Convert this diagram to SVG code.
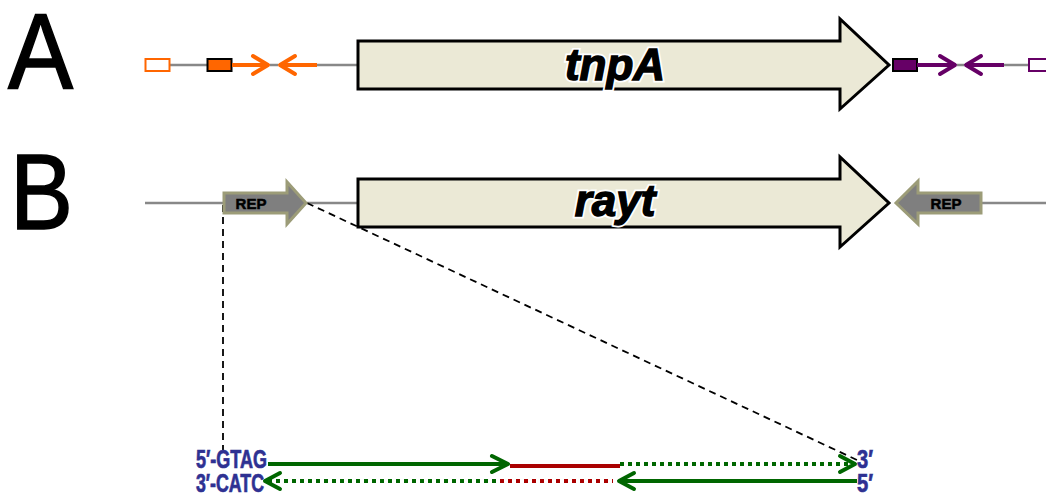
<svg xmlns="http://www.w3.org/2000/svg" width="1046" height="494" viewBox="0 0 1046 494">
<defs>
<style>
.bb{font-family:"Liberation Sans",Arial,sans-serif;font-size:107px;fill:#000;stroke:#000;stroke-width:1.6}
.gene{fill:#ebe9d6;stroke:#000;stroke-width:3;stroke-linejoin:miter}
.gw{font-family:"Liberation Sans",Arial,sans-serif;font-size:44px;font-weight:bold;font-style:italic;fill:#fff;stroke:#fff;stroke-width:5;text-anchor:middle}
.gl{font-family:"Liberation Sans",Arial,sans-serif;font-size:44px;font-weight:bold;font-style:italic;fill:#000;stroke:#000;stroke-width:1.4;text-anchor:middle}
.bl{stroke:#888;stroke-width:2.5;fill:none}
.rep{fill:#7f7f7f;stroke:#9c9c78;stroke-width:3}
.rt{font-family:"Liberation Sans",Arial,sans-serif;font-size:15px;font-weight:bold;fill:#000;stroke:#000;stroke-width:0.5;text-anchor:middle}
.dash{stroke:#000;stroke-width:1.8;stroke-dasharray:7,5;fill:none}
.seq{font-family:"Liberation Sans",Arial,sans-serif;font-size:26px;font-weight:bold;fill:#2e3192;stroke:#2e3192;stroke-width:0.7}
.g{stroke:#006600;stroke-width:4;fill:none}
.gd{stroke:#006600;stroke-width:4;stroke-dasharray:4,4;fill:none}
.r{stroke:#aa0000;stroke-width:4;fill:none}
.rd{stroke:#aa0000;stroke-width:4;stroke-dasharray:4,4;fill:none}
.hd{stroke-width:4;stroke-linecap:round;stroke-linejoin:round;fill:none}
</style>
</defs>
<text class="bb" x="8" y="89" textLength="65" lengthAdjust="spacingAndGlyphs">A</text>
<text class="bb" x="10" y="229" textLength="63" lengthAdjust="spacingAndGlyphs">B</text>
<g id="connectors">
<line class="bl" x1="170" y1="65" x2="207" y2="65"/>
<line class="bl" x1="317" y1="65" x2="358" y2="65"/>
<line class="bl" x1="270" y1="65" x2="278" y2="65"/>
<line class="bl" x1="957" y1="65" x2="964" y2="65"/>
<line class="bl" x1="1004" y1="65" x2="1030" y2="65"/>
<line class="bl" x1="145" y1="203" x2="223" y2="203"/>
<line class="bl" x1="307" y1="203" x2="358" y2="203"/>
<line class="bl" x1="982" y1="203" x2="1046" y2="203"/>
<line class="dash" x1="223" y1="205" x2="223" y2="450"/>
<line class="dash" x1="307" y1="203" x2="857" y2="460"/>
</g>
<g id="left-elements-A">
<rect x="145.5" y="59" width="24" height="12" fill="#fff" stroke="#ff6600" stroke-width="2"/>
<rect x="207.5" y="59" width="24" height="12" fill="#ff6600" stroke="#000" stroke-width="2"/>
<line x1="232" y1="65" x2="268" y2="65" stroke="#ff6600" stroke-width="4"/>
<polyline class="hd" stroke="#ff6600" points="253,56 268,65 253,74"/>
<line x1="280" y1="65" x2="317" y2="65" stroke="#ff6600" stroke-width="4"/>
<polyline class="hd" stroke="#ff6600" points="295,56 280,65 295,74"/>
</g>
<g id="tnpA">
<polygon class="gene" points="358,41 840,41 840,19 889,65 840,109 840,89 358,89"/>
<text class="gw" x="615" y="80">tnpA</text>
<text class="gl" x="615" y="80">tnpA</text>
</g>
<g id="right-elements-A">
<rect x="893" y="59" width="24" height="12" fill="#660066" stroke="#000" stroke-width="2"/>
<line x1="917" y1="65" x2="955" y2="65" stroke="#660066" stroke-width="4"/>
<polyline class="hd" stroke="#660066" points="940,56 955,65 940,74"/>
<line x1="966" y1="65" x2="1004" y2="65" stroke="#660066" stroke-width="4"/>
<polyline class="hd" stroke="#660066" points="981,56 966,65 981,74"/>
<rect x="1029" y="59" width="20" height="12" fill="#fff" stroke="#660066" stroke-width="2"/>
</g>
<g id="rep-left">
<polygon class="rep" points="224,193 287,193 287,182 306,203 287,224 287,213 224,213"/>
<text class="rt" x="251" y="209">REP</text>
</g>
<g id="rayt">
<polygon class="gene" points="358,179 840,179 840,157 889,203 840,247 840,227 358,227"/>
<text class="gw" x="615" y="216">rayt</text>
<text class="gl" x="615" y="216">rayt</text>
</g>
<g id="rep-right">
<polygon class="rep" points="981,193 918,193 918,181 896,203 918,224 918,213 981,213"/>
<text class="rt" x="946" y="209">REP</text>
</g>
<g id="sequence">
<text class="seq" x="196" y="468" textLength="71" lengthAdjust="spacingAndGlyphs">5′-GTAG</text>
<text class="seq" x="196" y="492" textLength="68" lengthAdjust="spacingAndGlyphs">3′-CATC</text>
<text class="seq" x="857" y="468" textLength="16" lengthAdjust="spacingAndGlyphs">3′</text>
<text class="seq" x="857" y="492" textLength="16" lengthAdjust="spacingAndGlyphs">5′</text>
<line class="g" x1="268" y1="464" x2="506" y2="464"/>
<polyline class="hd" stroke="#006600" points="492,456 508,464 492,472"/>
<line class="r" x1="510" y1="466" x2="620" y2="466"/>
<line class="gd" x1="620" y1="464" x2="852" y2="464"/>
<polyline class="hd" stroke="#006600" points="840,456 855,464 840,472"/>
<line class="gd" x1="268" y1="481" x2="498" y2="481"/>
<polyline class="hd" stroke="#006600" points="280,473 265,481 280,489"/>
<line class="rd" x1="500" y1="481" x2="613" y2="481"/>
<line class="g" x1="620" y1="481" x2="857" y2="481"/>
<polyline class="hd" stroke="#006600" points="634,473 619,481 634,489"/>
</g>
</svg>
